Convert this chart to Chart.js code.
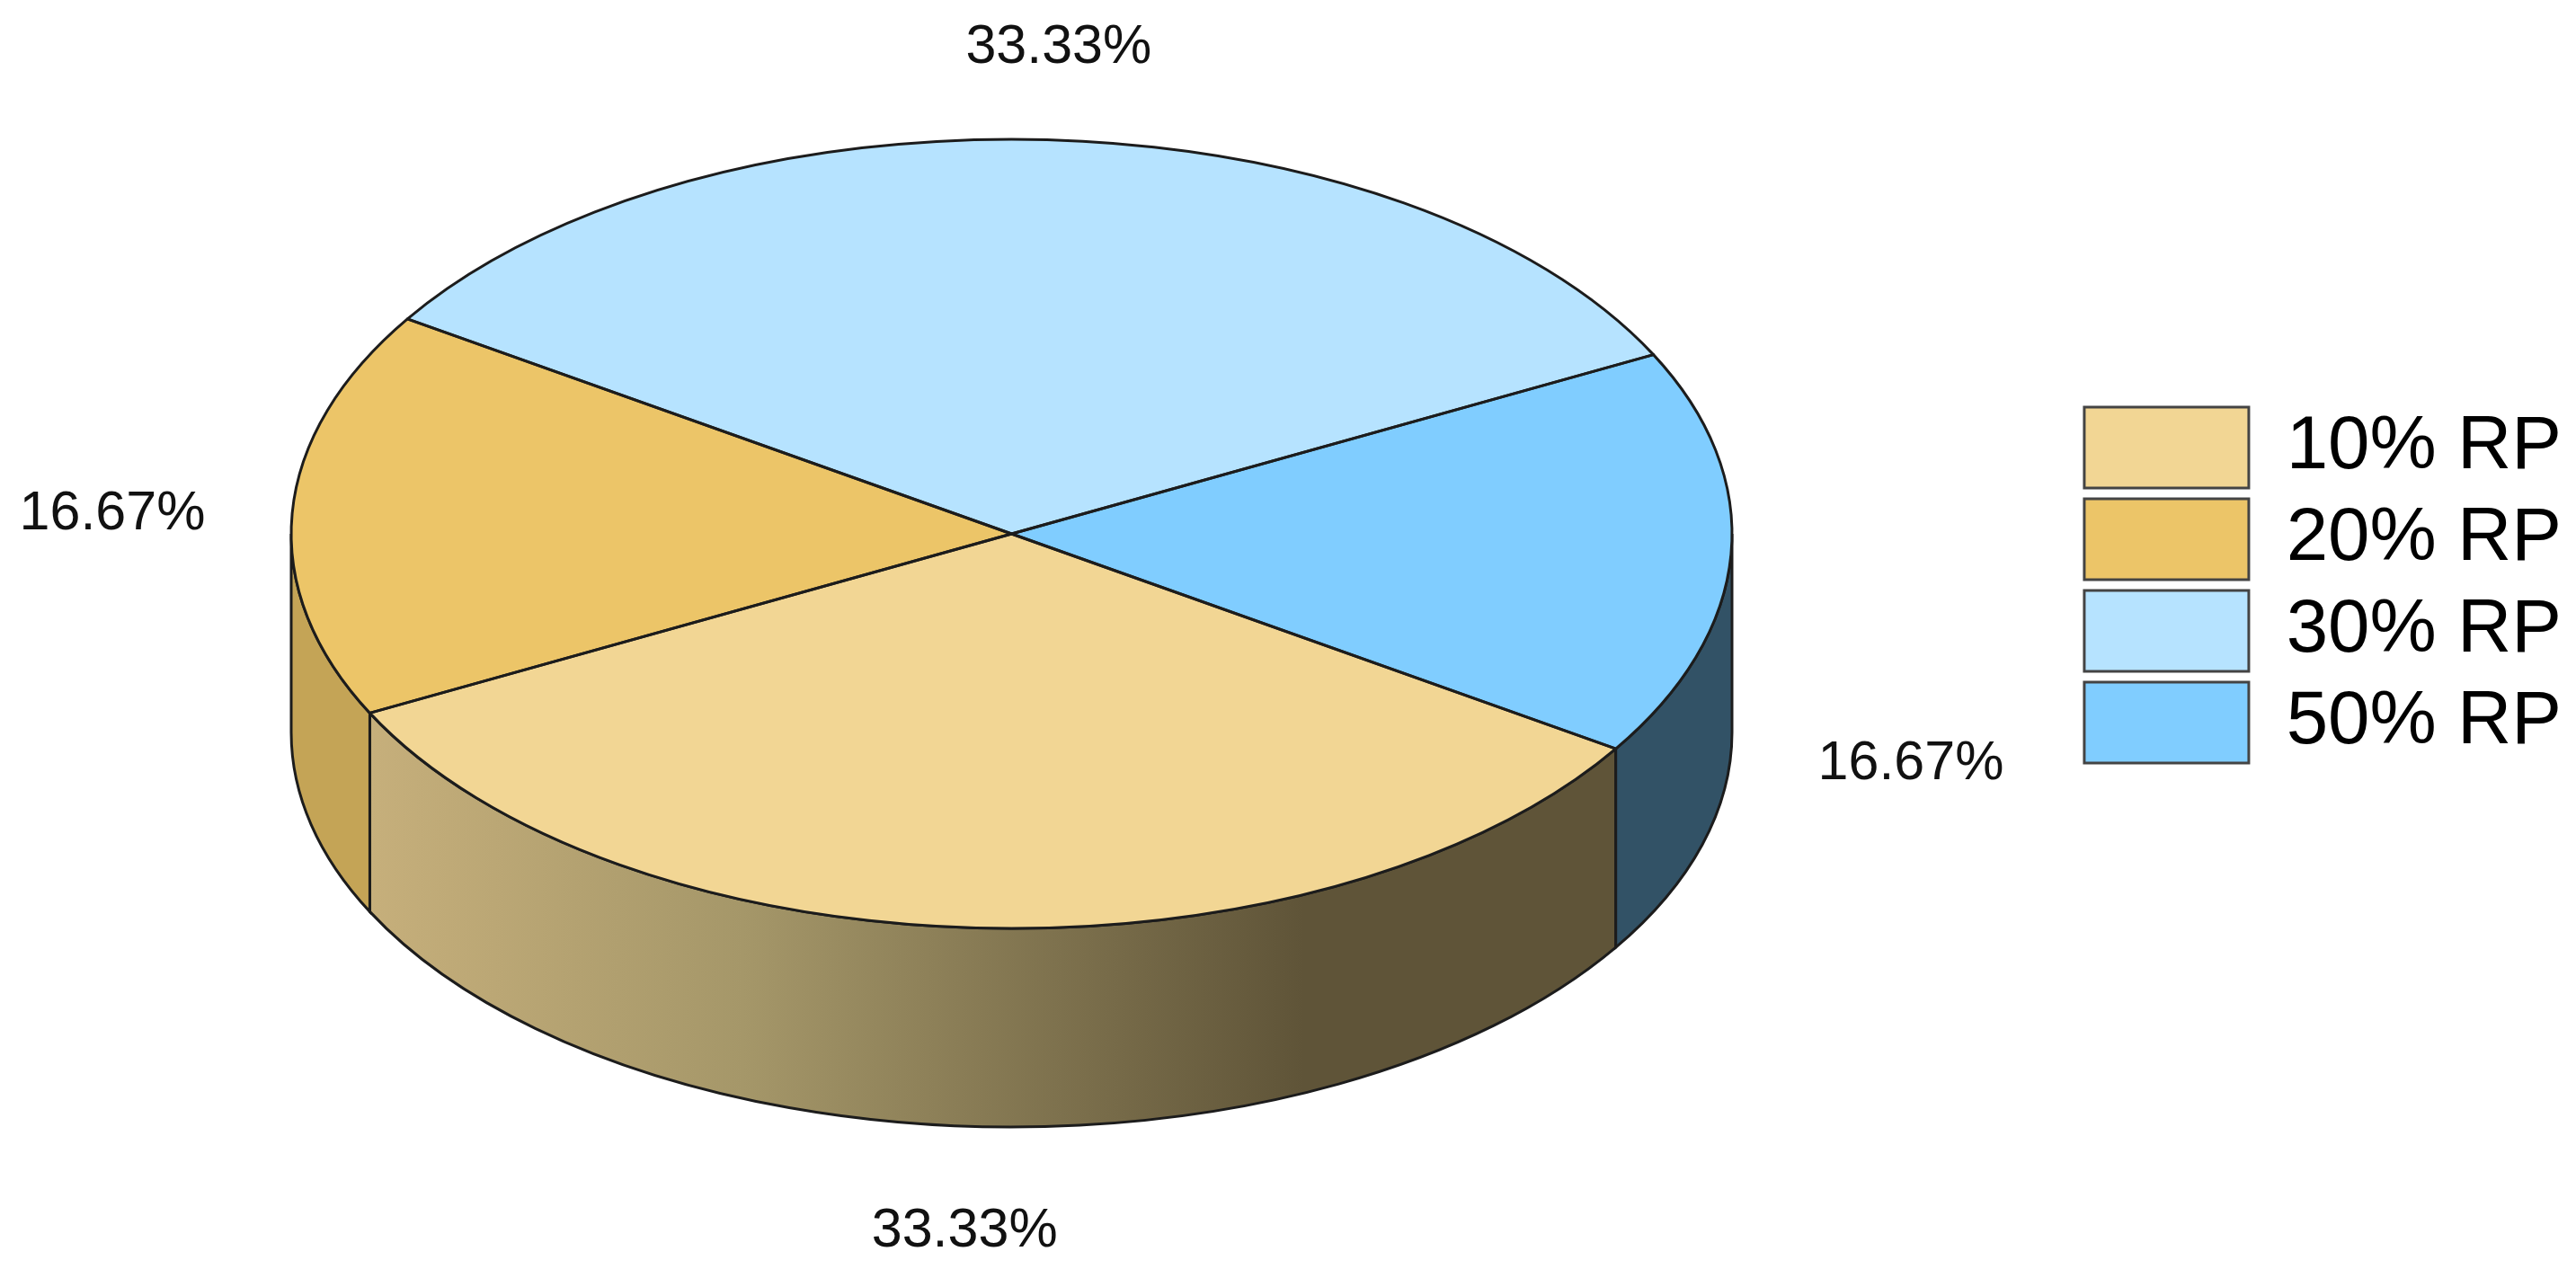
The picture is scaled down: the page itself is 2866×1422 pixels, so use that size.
<!DOCTYPE html>
<html>
<head>
<meta charset="utf-8">
<title>RP share</title>
<script src="https://cdn.jsdelivr.net/npm/chart.js@4"></script>
<style>
  html, body { margin: 0; padding: 0; background: #fff; }
  canvas { display: block; }
</style>
</head>
<body>
<canvas id="myChart" width="2866" height="1422"></canvas>
<script>
const categories = ['10% RP', '20% RP', '30% RP', '50% RP'];
const shares = [33.33, 16.67, 33.33, 16.67];
const topColors = ['#F2D694', '#ECC568', '#B6E3FF', '#80CDFF'];
const wallColors = ['#C6AF7B', '#C4A456', '#8AA0AF', '#325266'];
const wallShadeMid = '#A59769';
const wallShadeEnd = '#5F5438';

const fontName = '"Liberation Sans", Arial, sans-serif';
const outline = '#1c1c1c';

// where the tilted disc sits on the page
const pie = { cx: 1125.5, cy: 594, rx: 801.5, ry: 439, depth: 221, shadeTo: 1450 };

function point(angle, drop) {
    return {
        x: pie.cx + pie.rx * Math.cos(angle),
        y: pie.cy + pie.ry * Math.sin(angle) + drop
    };
}

function wallPath(ctx, from, to) {
    const a = point(to, 0);
    ctx.beginPath();
    ctx.ellipse(pie.cx, pie.cy, pie.rx, pie.ry, 0, from, to);
    ctx.lineTo(a.x, a.y + pie.depth);
    ctx.ellipse(pie.cx, pie.cy + pie.depth, pie.rx, pie.ry, 0, to, from, true);
    ctx.closePath();
}

const pie3d = {
    id: 'pie3d',
    beforeDatasetsDraw(chart) {
        const ctx = chart.ctx;
        const arcs = chart.getDatasetMeta(0).data;

        ctx.save();
        ctx.lineWidth = 3;
        ctx.strokeStyle = outline;
        arcs.forEach((arc, i) => {
            const { startAngle, endAngle } = arc.getProps(['startAngle', 'endAngle'], true);
            [0, Math.PI * 2].forEach((turn) => {
                const from = Math.max(startAngle, turn);
                const to = Math.min(endAngle, turn + Math.PI);
                if (to <= from) return;
                let fill = wallColors[i];
                if (i === 0) {
                    const start = point(to, 0).x;
                    fill = ctx.createLinearGradient(start, 0, pie.shadeTo, 0);
                    fill.addColorStop(0, wallColors[i]);
                    fill.addColorStop(0.4, wallShadeMid);
                    fill.addColorStop(1, wallShadeEnd);
                }
                ctx.fillStyle = fill;
                wallPath(ctx, from, to);
                ctx.fill();
                ctx.stroke();
            });
        });
        ctx.restore();

        // squash the round pie into the top of the disc
        const first = arcs[0];
        ctx.save();
        ctx.translate(pie.cx, pie.cy);
        ctx.scale(1, pie.ry / pie.rx);
        ctx.translate(-first.x, -first.y);
    },
    afterDatasetsDraw(chart) {
        const ctx = chart.ctx;
        ctx.restore();

        const arcs = chart.getDatasetMeta(0).data;
        const total = shares.reduce((a, b) => a + b, 0);

        ctx.save();
        ctx.lineWidth = 3;
        ctx.strokeStyle = outline;
        ctx.lineJoin = 'round';
        arcs.forEach((arc) => {
            const { startAngle, endAngle } = arc.getProps(['startAngle', 'endAngle'], true);
            const p = point(startAngle, 0);
            ctx.beginPath();
            ctx.moveTo(pie.cx, pie.cy);
            ctx.lineTo(p.x, p.y);
            ctx.ellipse(pie.cx, pie.cy, pie.rx, pie.ry, 0, startAngle, endAngle);
            ctx.closePath();
            ctx.stroke();
        });

        ctx.fillStyle = '#111';
        ctx.font = '61px ' + fontName;
        ctx.textAlign = 'center';
        ctx.textBaseline = 'middle';
        arcs.forEach((arc, i) => {
            const { startAngle, endAngle } = arc.getProps(['startAngle', 'endAngle'], true);
            const mid = (startAngle + endAngle) / 2;
            const s = Math.sin(mid);
            const x = pie.cx + 1.25 * pie.rx * Math.cos(mid);
            const y = pie.cy + 1.25 * pie.ry * s + (s > 0 ? pie.depth : 0) + 7;
            ctx.fillText((shares[i] / total * 100).toFixed(2) + '%', x, y);
        });
        ctx.restore();
    }
};

new Chart(document.getElementById('myChart'), {
    type: 'pie',
    plugins: [pie3d],
    data: {
        labels: categories,
        datasets: [{
            data: shares,
            backgroundColor: topColors,
            borderWidth: 0,
            radius: pie.rx,
            clip: false
        }]
    },
    options: {
        responsive: false,
        animation: false,
        rotation: 123,
        layout: { padding: { right: 6, bottom: 120 } },
        plugins: {
            tooltip: { enabled: false },
            legend: {
                position: 'right',
                onClick: null,
                labels: {
                    boxWidth: 183,
                    boxHeight: 90,
                    padding: 12,
                    color: '#111',
                    font: { family: fontName, size: 83.5 },
                    generateLabels(chart) {
                        return categories.map((name, i) => ({
                            text: name,
                            fillStyle: topColors[i],
                            strokeStyle: '#444',
                            lineWidth: 3,
                            index: i
                        }));
                    }
                }
            }
        }
    }
});
</script>
</body>
</html>
